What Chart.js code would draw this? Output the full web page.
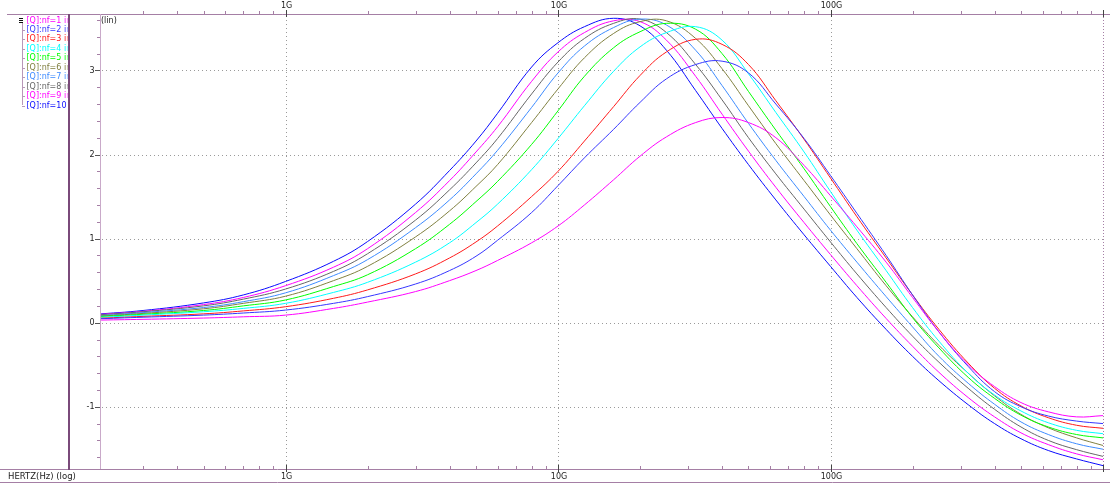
<!DOCTYPE html>
<html><head><meta charset="utf-8">
<script src="https://cdn.jsdelivr.net/npm/chart.js@4.4.0/dist/chart.umd.min.js"></script>
<style>html,body{margin:0;padding:0;background:#fff;overflow:hidden}#wrap{position:relative;width:1110px;height:489px}</style>
</head><body><div id="wrap"><canvas id="c" width="1110" height="489"></canvas></div>
<script>
// ---- data ----
const FREQ = [2e8,3e8,5e8,7e8,1e9,1.5e9,2e9,3e9,4e9,5e9,6e9,8e9,1e10,1.25e10,1.6e10,2e10,2.5e10,3.2e10,4e10,5e10,6.3e10,8e10,1e11,1.25e11,1.6e11,2e11,2.5e11,3.2e11,4e11,5e11,6.3e11,8e11,1e12];
const NF1  = [0.03,0.04,0.055,0.07,0.09,0.17,0.245,0.37,0.50,0.62,0.74,0.95,1.15,1.40,1.70,1.98,2.21,2.38,2.44,2.38,2.20,1.87,1.51,1.14,0.72,0.30,-0.11,-0.50,-0.76,-0.95,-1.06,-1.12,-1.105];
const NF2  = [0.045,0.065,0.09,0.115,0.15,0.23,0.31,0.46,0.62,0.79,0.98,1.31,1.63,1.96,2.30,2.62,2.90,3.07,3.11,2.97,2.60,2.19,1.75,1.30,0.80,0.33,-0.11,-0.52,-0.82,-1.00,-1.11,-1.17,-1.20];
const NF3  = [0.05,0.075,0.105,0.14,0.19,0.29,0.39,0.58,0.77,0.96,1.15,1.50,1.80,2.16,2.57,2.94,3.22,3.37,3.31,3.07,2.64,2.18,1.72,1.26,0.77,0.33,-0.08,-0.48,-0.78,-0.99,-1.13,-1.22,-1.256];
const NF4  = [0.06,0.09,0.13,0.17,0.23,0.36,0.48,0.72,0.95,1.19,1.41,1.82,2.19,2.58,2.99,3.28,3.45,3.52,3.36,2.96,2.50,2.03,1.56,1.10,0.62,0.18,-0.22,-0.60,-0.86,-1.05,-1.19,-1.28,-1.32];
const NF5  = [0.07,0.10,0.145,0.20,0.27,0.43,0.57,0.88,1.17,1.44,1.68,2.12,2.52,2.93,3.27,3.46,3.56,3.49,3.20,2.75,2.29,1.83,1.38,0.94,0.48,0.06,-0.30,-0.65,-0.90,-1.10,-1.24,-1.33,-1.37];
const NF6  = [0.075,0.11,0.165,0.23,0.315,0.50,0.67,1.02,1.33,1.62,1.88,2.38,2.78,3.15,3.44,3.58,3.59,3.38,3.02,2.58,2.13,1.69,1.28,0.88,0.44,0.07,-0.27,-0.60,-0.87,-1.09,-1.25,-1.37,-1.46];
const NF7  = [0.08,0.12,0.18,0.25,0.355,0.56,0.75,1.13,1.46,1.77,2.05,2.56,2.97,3.29,3.51,3.61,3.54,3.24,2.82,2.37,1.93,1.50,1.10,0.72,0.31,-0.05,-0.40,-0.72,-0.97,-1.18,-1.33,-1.44,-1.505];
const NF8  = [0.09,0.13,0.20,0.28,0.40,0.61,0.82,1.22,1.58,1.90,2.19,2.72,3.10,3.38,3.56,3.61,3.45,3.07,2.65,2.20,1.77,1.35,0.96,0.58,0.18,-0.16,-0.47,-0.78,-1.03,-1.24,-1.40,-1.51,-1.59];
const NF9  = [0.095,0.135,0.215,0.30,0.44,0.66,0.88,1.31,1.69,2.03,2.33,2.87,3.22,3.45,3.59,3.58,3.36,2.93,2.48,2.04,1.61,1.19,0.81,0.44,0.05,-0.28,-0.59,-0.89,-1.12,-1.31,-1.45,-1.56,-1.63];
const NF10 = [0.10,0.145,0.235,0.33,0.49,0.73,0.965,1.41,1.81,2.16,2.49,3.04,3.33,3.52,3.62,3.53,3.24,2.76,2.31,1.88,1.46,1.045,0.67,0.30,-0.08,-0.40,-0.69,-0.975,-1.20,-1.38,-1.52,-1.62,-1.70];
const SERIES = [NF1,NF2,NF3,NF4,NF5,NF6,NF7,NF8,NF9,NF10];
const SERIES_LABELS = ['[Q]:nf=1 in','[Q]:nf=2 in','[Q]:nf=3 in','[Q]:nf=4 in','[Q]:nf=5 in','[Q]:nf=6 in','[Q]:nf=7 in','[Q]:nf=8 in','[Q]:nf=9 in','[Q]:nf=10 in'];
const COLORS = ['#ff00ff','#3636ff','#ff1a1a','#00ffff','#00ff00','#808040','#3d8bff','#666666','#ff00ff','#0a0aff'];
const X_TICK_VALUES = [1e9,1e10,1e11];
const X_TICK_LABELS = ['1G','10G','100G'];
const Y_TICK_VALUES = [-1,0,1,2,3];
const Y_TICK_LABELS = ['-1','0','1','2','3'];
const X_TITLE = 'HERTZ(Hz) (log)';
const Y_TITLE = '(lin)';

const FRAME = '#a57fa5';
const AXIS_LIGHT = '#c9a9c9';
const TEXT = '#222222';

function seg(ctx,x1,y1,x2,y2){ctx.beginPath();ctx.moveTo(x1,y1);ctx.lineTo(x2,y2);ctx.stroke();}

const axesPlugin = {
  id:'axesPlugin',
  beforeDatasetsDraw(chart){
    const {ctx, chartArea:a, scales:{x,y}} = chart;
    ctx.save();
    ctx.strokeStyle='#9a9a9a'; ctx.lineWidth=1; ctx.setLineDash([1,3]);
    X_TICK_VALUES.forEach(v=>{const px=Math.round(x.getPixelForValue(v))+0.5; seg(ctx,px,a.top+2,px,a.bottom);});
    Y_TICK_VALUES.forEach(v=>{const py=Math.round(y.getPixelForValue(v))+0.5; seg(ctx,a.left+2,py,a.right,py);});
    ctx.restore();
  },
  afterDraw(chart){
    const {ctx, chartArea:a, scales:{x,y}} = chart;
    ctx.save();
    ctx.setLineDash([]); ctx.lineWidth=1;
    ctx.strokeStyle=FRAME;
    seg(ctx,7,14.5,1110,14.5);
    seg(ctx,0,469.5,1110,469.5);
    seg(ctx,0,482.5,1110,482.5);
    ctx.strokeStyle=AXIS_LIGHT;
    seg(ctx,a.left+0.5,a.top,a.left+0.5,a.bottom);
    ctx.setLineDash([1,2]); ctx.strokeStyle=FRAME;
    seg(ctx,a.right+0.5,a.top,a.right+0.5,a.bottom);
    ctx.setLineDash([]);
    ctx.fillStyle='#7a4a7a'; ctx.fillRect(68,14,2,456);
    ctx.font='8px "DejaVu Sans"'; ctx.textAlign='center'; ctx.textBaseline='middle';
    for(let d=8; d<=12; d++){
      for(let m=1;m<=9;m++){
        const v=m*Math.pow(10,d);
        if(v<x.min||v>x.max*1.0001) continue;
        const px=Math.round(x.getPixelForValue(v))+0.5;
        if(m===1){
          ctx.strokeStyle='#444';
          seg(ctx,px,10,px,17);
          seg(ctx,px,465,px,472);
        } else {
          ctx.strokeStyle=FRAME;
          seg(ctx,px,11,px,14);
          seg(ctx,px,466,px,469);
        }
      }
    }
    ctx.fillStyle=TEXT;
    X_TICK_VALUES.forEach((v,i)=>{
      const px=x.getPixelForValue(v);
      ctx.fillText(X_TICK_LABELS[i],px+1,5.5);
      ctx.fillText(X_TICK_LABELS[i],px+1,476.5);
    });
    for(let k=-9;k<=19;k++){
      const v=k*0.2;
      if(v<y.min||v>y.max) continue;
      const py=Math.round(y.getPixelForValue(v))+0.5;
      ctx.strokeStyle = (k%5===0)?'#555':FRAME;
      seg(ctx,(k%5===0)?95:97,py,a.left,py);
    }
    ctx.textAlign='right';
    Y_TICK_VALUES.forEach((v,i)=>{
      ctx.fillText(Y_TICK_LABELS[i],94.5,y.getPixelForValue(v)+0.5);
    });
    ctx.textAlign='left';
    ctx.fillText(Y_TITLE,101,20.5);
    ctx.font='8.5px "DejaVu Sans"';
    ctx.fillText(X_TITLE,8,476.5);
    // legend
    ctx.strokeStyle='#b898b8';
    seg(ctx,22.5,23,22.5,105);
    ctx.save();
    ctx.beginPath(); ctx.rect(0,15,67.5,100); ctx.clip();
    ctx.font='8px "DejaVu Sans"'; ctx.textBaseline='middle';
    SERIES_LABELS.forEach((t,i)=>{
      const ly=20.5+i*9.45;
      if(i>0){ctx.strokeStyle='#b898b8'; seg(ctx,22,Math.round(ly)+0.5,25,Math.round(ly)+0.5);}
      ctx.fillStyle=COLORS[i];
      ctx.fillText(t,26.5,ly);
    });
    ctx.restore();
    ctx.fillStyle='#111';
    ctx.fillRect(19,18,4,1); ctx.fillRect(19,20,4,1); ctx.fillRect(19,22,4,1);
    ctx.restore();
  }
};

new Chart(document.getElementById('c'),{
  type:'line',
  data:{datasets: SERIES.map((s,i)=>({
    label: SERIES_LABELS[i],
    data: s.map((v,j)=>({x:FREQ[j], y:v})),
    borderColor: COLORS[i], borderWidth:1, pointRadius:0, fill:false,
    tension:0.4
  }))},
  options:{
    responsive:false, animation:false, devicePixelRatio:1,
    layout:{padding:{left:100,top:14,right:7,bottom:20}},
    plugins:{legend:{display:false},tooltip:{enabled:false}},
    scales:{
      x:{type:'logarithmic',min:2.085e8,max:1e12,display:false},
      y:{type:'linear',min:-1.74,max:3.671,display:false}
    }
  },
  plugins:[axesPlugin]
});
</script></body></html>
